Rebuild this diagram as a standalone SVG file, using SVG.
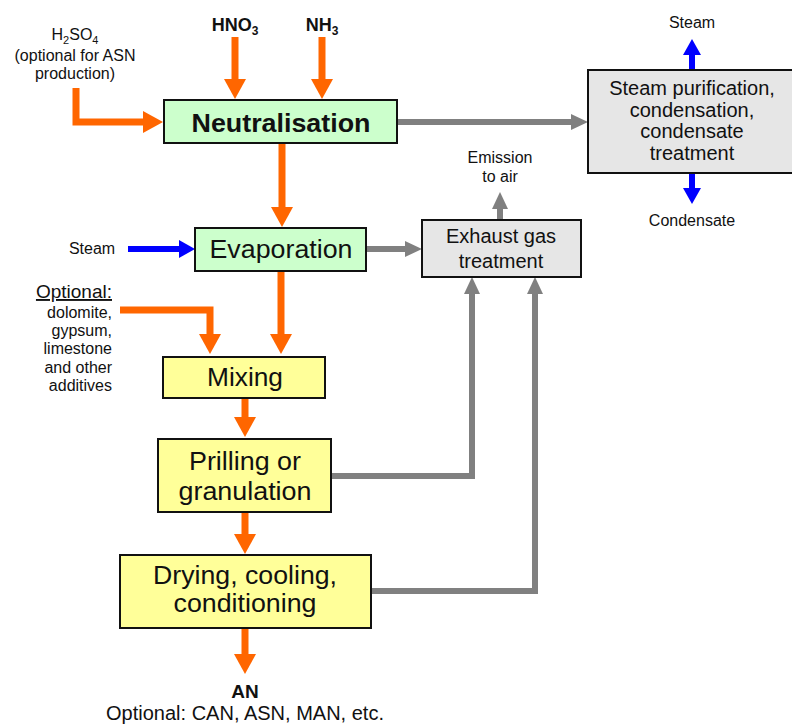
<svg xmlns="http://www.w3.org/2000/svg" width="792" height="724" viewBox="0 0 792 724">
<defs>
<style>
text{font-family:"Liberation Sans",Arial,sans-serif;fill:#111;}
.box{stroke:#111;stroke-width:2;}
.green{fill:#CCFFCC;}
.yellow{fill:#FFFF99;}
.grey{fill:#E6E6E6;}
.big{font-size:25px;text-anchor:middle;}
.mid{font-size:20px;text-anchor:middle;}
.sm{font-size:16px;text-anchor:middle;}
.smr{font-size:16px;text-anchor:end;}
.or{stroke:#FF6600;stroke-width:7;fill:none;}
.gr{stroke:#808080;stroke-width:6;fill:none;}
.bl{stroke:#0000FF;stroke-width:6;fill:none;}
</style>
<marker id="ho" markerUnits="userSpaceOnUse" viewBox="0 -11 20 22" refX="1" refY="0" markerWidth="20" markerHeight="22" orient="auto"><path d="M0,-11 L20,0 L0,11 z" fill="#FF6600"/></marker>
<marker id="hg" markerUnits="userSpaceOnUse" viewBox="0 -8 17 16" refX="1" refY="0" markerWidth="17" markerHeight="16" orient="auto"><path d="M0,-8 L17,0 L0,8 z" fill="#808080"/></marker>
<marker id="hb" markerUnits="userSpaceOnUse" viewBox="0 -9 16 18" refX="1" refY="0" markerWidth="16" markerHeight="18" orient="auto"><path d="M0,-9 L16,0 L0,9 z" fill="#0000FF"/></marker>
</defs>
<rect width="792" height="724" fill="#fff"/>

<g id="connectors">
<path class="or" d="M235,37 V80" marker-end="url(#ho)"/>
<path class="or" d="M322,37 V80" marker-end="url(#ho)"/>
<path class="or" d="M76,88 V122 H144" marker-end="url(#ho)"/>
<path class="or" d="M282,143 V208" marker-end="url(#ho)"/>
<path class="bl" d="M128,249 H180" marker-end="url(#hb)"/>
<path class="or" d="M281,271 V335" marker-end="url(#ho)"/>
<path class="or" d="M120,310 H210 V335" marker-end="url(#ho)"/>
<path class="or" d="M245,398 V418" marker-end="url(#ho)"/>
<path class="or" d="M245,512 V535" marker-end="url(#ho)"/>
<path class="or" d="M245,628 V655" marker-end="url(#ho)"/>
<path class="gr" d="M397,122 H572" marker-end="url(#hg)"/>
<path class="gr" d="M366,249 H406" marker-end="url(#hg)"/>
<path class="gr" d="M500,220 V208" marker-end="url(#hg)"/>
<path class="gr" d="M331,476 H472 V293" marker-end="url(#hg)"/>
<path class="gr" d="M371,591 H535 V293" marker-end="url(#hg)"/>
<path class="bl" d="M692,70 V54" marker-end="url(#hb)"/>
<path class="bl" d="M692,173 V189" marker-end="url(#hb)"/>
</g>

<g id="label-h2so4">
<text class="sm" x="75" y="40">H<tspan font-size="11" dy="4">2</tspan><tspan dy="-4">SO</tspan><tspan font-size="11" dy="4">4</tspan></text>
<text class="sm" x="75" y="61">(optional for ASN</text>
<text class="sm" x="75" y="79">production)</text>
</g>
<g id="label-hno3"><text x="235" y="31" font-size="18" font-weight="bold" text-anchor="middle">HNO<tspan font-size="12" dy="4">3</tspan></text></g>
<g id="label-nh3"><text x="322" y="31" font-size="18" font-weight="bold" text-anchor="middle">NH<tspan font-size="12" dy="4">3</tspan></text></g>

<g id="neutralisation">
<rect class="box green" x="164" y="100" width="233" height="43"/>
<text x="281" y="132" font-size="25" font-weight="bold" text-anchor="middle" textLength="179" lengthAdjust="spacingAndGlyphs">Neutralisation</text>
</g>

<g id="steam-purification">
<rect class="box grey" x="588" y="70" width="210" height="103"/>
<text class="mid" x="692" y="95">Steam purification,</text>
<text class="mid" x="692" y="117">condensation,</text>
<text class="mid" x="692" y="138">condensate</text>
<text class="mid" x="692" y="160">treatment</text>
</g>
<g id="label-steam-out"><text class="sm" x="692" y="28">Steam</text></g>
<g id="label-condensate"><text class="sm" x="692" y="226">Condensate</text></g>

<g id="label-emission">
<text class="sm" x="500" y="163">Emission</text>
<text class="sm" x="500" y="182">to air</text>
</g>

<g id="exhaust">
<rect class="box grey" x="422" y="220" width="159" height="57"/>
<text class="mid" x="501" y="243">Exhaust gas</text>
<text class="mid" x="501" y="268">treatment</text>
</g>

<g id="label-steam-in"><text class="sm" x="92" y="254">Steam</text></g>

<g id="evaporation">
<rect class="box green" x="195" y="228" width="171" height="43"/>
<text class="big" x="281" y="258" textLength="143" lengthAdjust="spacingAndGlyphs">Evaporation</text>
</g>

<g id="label-optional">
<text x="112" y="298" font-size="19" text-anchor="end" text-decoration="underline">Optional:</text>
<text class="smr" x="112" y="318">dolomite,</text>
<text class="smr" x="112" y="336">gypsum,</text>
<text class="smr" x="112" y="354">limestone</text>
<text class="smr" x="112" y="373">and other</text>
<text class="smr" x="112" y="391">additives</text>
</g>

<g id="mixing">
<rect class="box yellow" x="163" y="357" width="162" height="41"/>
<text class="big" x="245" y="386" textLength="76" lengthAdjust="spacingAndGlyphs">Mixing</text>
</g>

<g id="prilling">
<rect class="box yellow" x="158" y="439" width="173" height="73"/>
<text class="big" x="245" y="470" textLength="112" lengthAdjust="spacingAndGlyphs">Prilling or</text>
<text class="big" x="245" y="500" textLength="133" lengthAdjust="spacingAndGlyphs">granulation</text>
</g>

<g id="drying">
<rect class="box yellow" x="120" y="555" width="251" height="73"/>
<text class="big" x="245" y="584" textLength="184" lengthAdjust="spacingAndGlyphs">Drying, cooling,</text>
<text class="big" x="245" y="612" textLength="143" lengthAdjust="spacingAndGlyphs">conditioning</text>
</g>

<g id="label-an">
<text x="245" y="698" font-size="19" font-weight="bold" text-anchor="middle">AN</text>
<text x="245" y="720" font-size="20" text-anchor="middle">Optional: CAN, ASN, MAN, etc.</text>
</g>
</svg>
